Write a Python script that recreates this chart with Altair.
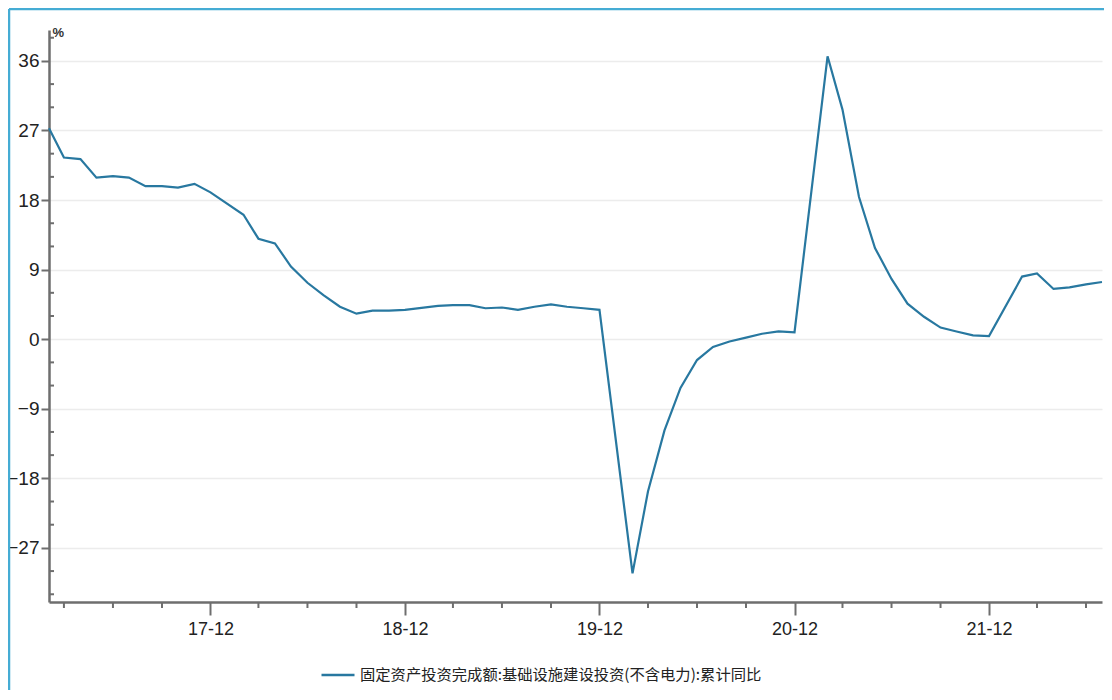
import altair as alt
import pandas as pd

LEGEND = "固定资产投资完成额:基础设施建设投资(不含电力):累计同比"

years = [2017, 2018, 2019, 2020, 2021, 2022]
# cumulative YoY %, months Feb..Dec (Jan merged into Feb)
v2017 = [27.3, 23.5, 23.3, 20.9, 21.1, 20.9, 19.8, 19.8, 19.6, 20.1, 19.0]
v2018 = [16.1, 13.0, 12.4, 9.4, 7.3, 5.7, 4.2, 3.3, 3.7, 3.7, 3.8]
v2019 = [4.3, 4.4, 4.4, 4.0, 4.1, 3.8, 4.2, 4.5, 4.2, 4.0, 3.8]
v2020 = [-30.3, -19.7, -11.8, -6.3, -2.7, -1.0, -0.3, 0.2, 0.7, 1.0, 0.9]
v2021 = [36.6, 29.7, 18.4, 11.8, 7.8, 4.6, 2.9, 1.5, 1.0, 0.5, 0.4]
v2022 = [8.1, 8.5, 6.5, 6.7, 7.1, 7.4]
values_by_year = [v2017, v2018, v2019, v2020, v2021, v2022]

y_major = [-27, -18, -9, 0, 9, 18, 27, 36]
y_minor = [-33, -30, -24, -21, -15, -12, -6, -3, 3, 6, 12, 15, 21, 24, 30, 33, 39]
x_major_years = [2017, 2018, 2019, 2020, 2021]  # December labels
x_minor = ["2017-03-01", "2017-06-01", "2017-09-01", "2018-03-01", "2018-06-01", "2018-09-01",
           "2019-03-01", "2019-06-01", "2019-09-01", "2020-03-01", "2020-06-01", "2020-09-01",
           "2021-03-01", "2021-06-01", "2021-09-01", "2022-03-01", "2022-06-01"]

rows = []
for yr, vals in zip(years, values_by_year):
    for i, v in enumerate(vals):
        rows.append({"date": f"{yr}-{i + 2:02d}-01", "value": v, "series": LEGEND})
df = pd.DataFrame(rows)

W, H = 1053, 572
AXIS_COLOR = "#6e6e6e"
LABEL_FONT = "Liberation Sans, Arial, sans-serif"

x_scale = alt.Scale(type="utc",
                    domain=[alt.DateTime(year=2017, month=2, date=1, utc=True),
                            alt.DateTime(year=2022, month=7, date=1, utc=True)])
y_scale = alt.Scale(domain=[-34, 40], nice=False, zero=False)

line = alt.Chart(df).mark_line(strokeWidth=2.2).encode(
    x=alt.X("date:T", scale=x_scale,
            axis=alt.Axis(values=[alt.DateTime(year=y, month=12, date=1, utc=True) for y in x_major_years],
                          labelExpr="utcFormat(datum.value, '%y-%m')", title=None, grid=False,
                          tickSize=13, tickWidth=2, tickColor=AXIS_COLOR,
                          domainColor=AXIS_COLOR, domainWidth=2.5,
                          labelFont=LABEL_FONT, labelFontSize=18, labelColor="#222",
                          labelPadding=5)),
    y=alt.Y("value:Q", scale=y_scale,
            axis=alt.Axis(values=y_major, title="%", titleAngle=0, titleX=3, titleY=2,
                          titleAlign="left", titleBaseline="middle", titleFontSize=13,
                          titleFontWeight="bold", titleColor="#333",
                          grid=True, gridColor="#ececec", gridWidth=1.5,
                          tickSize=8, tickWidth=2, tickColor=AXIS_COLOR,
                          domainColor=AXIS_COLOR, domainWidth=2.5,
                          labelFont=LABEL_FONT, labelFontSize=19, labelColor="#222",
                          labelPadding=2)),
    color=alt.Color("series:N", scale=alt.Scale(range=["#2878A0"]),
                    legend=alt.Legend(orient="none", legendX=271, legendY=627, title=None,
                                      symbolType="stroke", symbolSize=1089,
                                      symbolStrokeWidth=2.5, labelFont="Noto Sans CJK SC",
                                      labelFontSize=15.3, labelColor="#222", labelLimit=900,
                                      labelOffset=4, padding=0)),
)

ymin_df = pd.DataFrame({"value": y_minor})
y_minor_ticks = alt.Chart(ymin_df).mark_rule(color=AXIS_COLOR, strokeWidth=2).encode(
    y=alt.Y("value:Q", scale=y_scale),
    x=alt.value(0), x2=alt.value(5),
)

xmin_df = pd.DataFrame({"date": x_minor})
x_minor_ticks = alt.Chart(xmin_df).mark_rule(color=AXIS_COLOR, strokeWidth=2).encode(
    x=alt.X("date:T", scale=x_scale),
    y=alt.value(H), y2=alt.value(H + 6),
)

frame_df = pd.DataFrame({"k": [0]})
frame_top = alt.Chart(frame_df).mark_rule(color="#45ACD4", strokeWidth=2.5).encode(
    x=alt.value(-40), x2=alt.value(W + 2), y=alt.value(-21))
frame_left = alt.Chart(frame_df).mark_rule(color="#45ACD4", strokeWidth=2.5).encode(
    x=alt.value(-40), y=alt.value(-21), y2=alt.value(H + 90))

chart = alt.layer(line, y_minor_ticks, x_minor_ticks, frame_top, frame_left).properties(
    width=W, height=H,
    background="white",
    autosize=alt.AutoSizeParams(type="none"),
    padding={"left": 41, "top": 22, "right": 2, "bottom": 88},
).configure_view(stroke=None)

chart.save("out.html", embed_options={"renderer": "svg", "actions": False})
